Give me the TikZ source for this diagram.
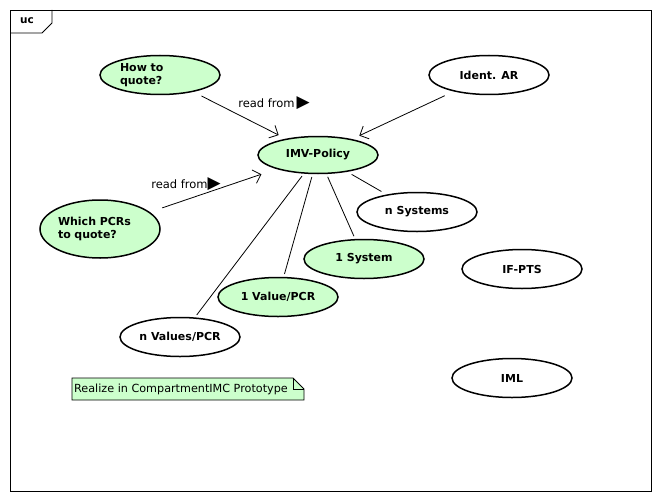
\documentclass[tikz,border=0pt]{standalone}
\usepackage{fontspec}
\setmainfont{DejaVu Sans}
\usetikzlibrary{shapes.geometric,arrows.meta,positioning}
\definecolor{usecasegreen}{RGB}{204,255,204}
\tikzset{y=-1pt}
\tikzset{x=1pt}
\tikzstyle{usecase}=[ellipse,draw,line width=1.5pt,minimum width=120pt,minimum height=39pt,inner sep=0pt,font=\bfseries\fontsize{11}{13.5}\selectfont]
\tikzstyle{chosen}=[fill=usecasegreen]
\tikzset{readfrom/.style={-{Straight Barb[length=7pt,width=14pt]},line width=.8pt}}
\tikzset{assoc/.style={line width=.8pt,shorten >=3pt,shorten <=3pt}}
\tikzset{edgelabel/.style={font=\fontsize{11.5}{13}\selectfont,inner sep=0pt}}
\newcommand{\readtip}{{\fontsize{17}{17}\selectfont ▶}}

\begin{document}
\begin{tikzpicture}
  \useasboundingbox (0,0) rectangle (660,500);
  %% Frame
  \draw[line width=.8pt] (10,10) rectangle (651,491);
  \draw[line width=.8pt] (10,33) -- (42,33) -- (52,23) -- (52,10);
  \draw (27,21) node[font=\bfseries\fontsize{10.5}{13}\selectfont] (frametag) {uc};

  %% Use cases
  \draw (160,75) node[usecase,chosen,text width=80pt,align=left] (howto) {How to\\quote?};
  \draw (489,75) node[usecase] (identar) {Ident. AR};
  \draw (318,155) node[usecase,chosen,minimum height=37pt] (imv) {IMV-Policy};
  \draw (100,229) node[usecase,chosen,minimum height=58pt,text width=84pt,align=left] (whichpcr) {Which PCRs\\to quote?};
  \draw (417,212) node[usecase] (nsystems) {n Systems};
  \draw (364,259) node[usecase,chosen] (onesystem) {1 System};
  \draw (522,269) node[usecase] (ifpts) {IF-PTS};
  \draw (278,297) node[usecase,chosen] (onevalue) {1 Value/PCR};
  \draw (180,337) node[usecase] (nvalues) {n Values/PCR};
  \draw (512,378) node[usecase] (iml) {IML};

  %% Connectors
  \draw[readfrom,shorten <=9pt,shorten >=8pt] (howto) -- (imv);
  \draw[readfrom,shorten <=10pt,shorten >=8pt] (identar) -- (imv);
  \draw[readfrom,shorten <=13pt,shorten >=16pt] (whichpcr) -- (imv);
  \draw[assoc,shorten <=5pt,shorten >=6pt] (imv) -- (nsystems);
  \draw[assoc] (imv) -- (onesystem);
  \draw[assoc] (imv) -- (onevalue);
  \draw[assoc] (imv) -- (nvalues);
  \draw (274,103) node[edgelabel] (readhowto) {read from\,\readtip};
  \draw (186,184) node[edgelabel] (readwhich) {read from\readtip};

  %% Note
  \draw[line width=.8pt,fill=usecasegreen] (72,378) -- (293,378) -- (304,389) -- (304,400) -- (72,400) -- cycle;
  \draw[line width=.8pt] (293,378) -- (293,389) -- (304,389);
  \draw (74,389) node[anchor=west,inner sep=0pt,font=\fontsize{11.2}{13}\selectfont] (note) {Realize in CompartmentIMC Prototype};
\end{tikzpicture}
\end{document}
